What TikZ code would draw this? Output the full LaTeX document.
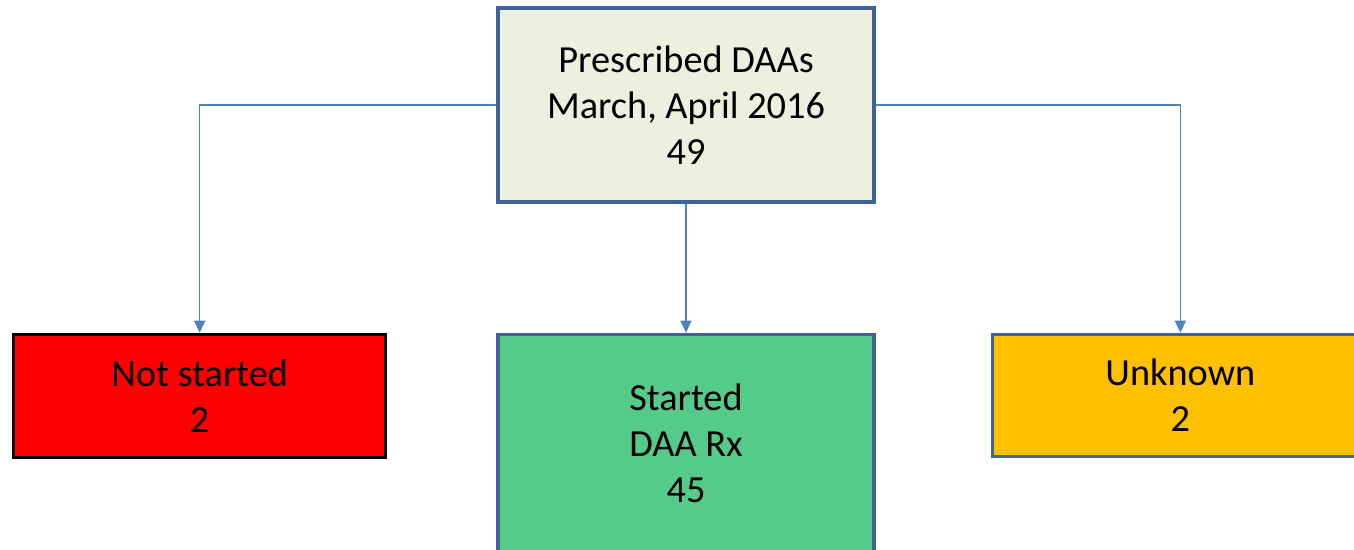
\documentclass[tikz,border=0pt]{standalone}
\usepackage{fontspec}
\setmainfont{Carlito}
\usepackage{xcolor}
\usepackage{tikz}
\usetikzlibrary{arrows.meta,positioning}

\definecolor{boxblue}{HTML}{3F6398}
\definecolor{linkblue}{HTML}{4F81BD}
\definecolor{topfill}{HTML}{EBF1DE}
\definecolor{goodfill}{HTML}{54CB89}
\definecolor{waitfill}{HTML}{FFC000}

\begin{document}
\begin{tikzpicture}[->, >={Triangle[length=0.24cm,width=0.22cm]}, thick]
      \tikzset{every node/.style={align=center, text=black, inner sep=0pt,
          font=\fontsize{21.8}{26.2}\selectfont},
        flowbox/.style={rectangle, draw=boxblue, line width=1.9pt, minimum width=7.52cm},
        link/.style={draw=linkblue, line width=0.8pt}}
      \useasboundingbox (0,0) rectangle (27.08,-11);

      \node[flowbox, fill=topfill, minimum height=3.88cm] (prescribed) at (13.72,-2.10)
          {Prescribed DAAs\\March, April 2016\\49};
      \node[flowbox, fill=goodfill, minimum height=4.36cm, below=2.58cm of prescribed] (started)
          {Started\\DAA Rx\\45};
      \node[flowbox, fill=red, draw=black, minimum width=7.44cm, minimum height=2.46cm,
          left=2.18cm of started.north west, anchor=north east] (notstarted) {Not started\\2};
      \node[flowbox, fill=waitfill, minimum height=2.44cm,
          right=2.30cm of started.north east, anchor=north west] (unknown) {Unknown\\2};

      \path[link] (prescribed.west) -| (notstarted.north);
      \path[link] (prescribed.south) -- (started.north);
      \path[link] (prescribed.east) -| (unknown.north);

\end{tikzpicture}
\end{document}
